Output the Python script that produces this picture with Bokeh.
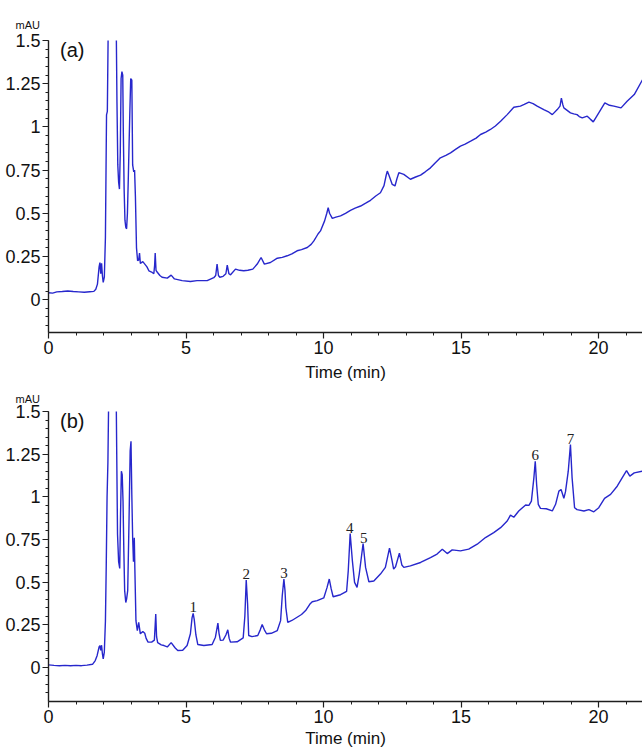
from bokeh.plotting import figure
from bokeh.layouts import column
from bokeh.models import ColumnDataSource, FixedTicker, CustomJSTickFormatter, Label, Range1d
from bokeh.core.properties import value
from bokeh.embed import file_html
from bokeh.resources import INLINE

# ---- chromatogram (a): time (min) and absorbance (mAU) ----
t_a = [0.0, 0.15, 0.3, 0.5, 0.7, 0.9, 1.1, 1.3, 1.5, 1.65, 1.72, 1.78, 1.84, 1.87, 1.9, 1.93, 1.96,
       1.99, 2.03, 2.07, 2.11, 2.14, 2.17, 2.22, 2.35, 2.45, 2.49, 2.52, 2.55, 2.58, 2.61, 2.64,
       2.67, 2.70, 2.72, 2.75, 2.78, 2.81, 2.84, 2.87, 2.9, 2.93, 2.96, 2.99, 3.03, 3.06, 3.1,
       3.13, 3.16, 3.2, 3.24, 3.28, 3.31, 3.34, 3.43, 3.53, 3.58, 3.65, 3.75, 3.83, 3.86, 3.88,
       3.91, 3.95, 4.05, 4.13, 4.32, 4.46, 4.58, 4.86, 5.16, 5.4, 5.77, 6.01, 6.08, 6.13, 6.18,
       6.23, 6.35, 6.45, 6.5, 6.56, 6.62, 6.8, 6.95, 7.1, 7.25, 7.43, 7.59, 7.73, 7.85, 8.07,
       8.32, 8.5, 8.68, 8.85, 9.04, 9.2, 9.41, 9.55, 9.65, 9.8, 9.89, 10.04, 10.12, 10.17, 10.22,
       10.32, 10.45, 10.62, 10.8, 10.98, 11.15, 11.35, 11.55, 11.71, 11.9, 12.07, 12.2, 12.28,
       12.32, 12.38, 12.5, 12.6, 12.67, 12.74, 12.92, 13.16, 13.35, 13.53, 13.7, 13.89, 14.05,
       14.25, 14.45, 14.62, 14.8, 14.98, 15.15, 15.35, 15.55, 15.71, 15.9, 16.07, 16.25, 16.44,
       16.68, 16.92, 17.16, 17.3, 17.47, 17.62, 17.77, 18.01, 18.2, 18.32, 18.5, 18.6, 18.65,
       18.7, 18.74, 18.98, 19.1, 19.22, 19.3, 19.41, 19.59, 19.7, 19.81, 20.01, 20.23, 20.4,
       20.56, 20.82, 21.04, 21.3, 21.6]
y_a = [0.040, 0.038, 0.045, 0.047, 0.050, 0.047, 0.045, 0.043, 0.046, 0.048, 0.06, 0.09, 0.19,
       0.215, 0.15, 0.21, 0.14, 0.10, 0.13, 0.36, 1.07, 1.09, 1.55, 1.9, 2.2, 1.8, 1.14, 0.78,
       0.68, 0.64, 0.85, 1.28, 1.32, 1.30, 0.98, 0.64, 0.46, 0.42, 0.41, 0.5, 0.69, 0.90, 1.1,
       1.28, 1.27, 0.78, 0.74, 0.75, 0.60, 0.30, 0.225, 0.23, 0.27, 0.21, 0.22, 0.20, 0.19, 0.167,
       0.16, 0.15, 0.2, 0.27, 0.17, 0.16, 0.14, 0.13, 0.125, 0.142, 0.12, 0.11, 0.105, 0.11, 0.11,
       0.127, 0.14, 0.206, 0.14, 0.13, 0.135, 0.15, 0.20, 0.15, 0.144, 0.177, 0.17, 0.167, 0.17,
       0.177, 0.206, 0.244, 0.206, 0.215, 0.24, 0.245, 0.254, 0.265, 0.283, 0.29, 0.302, 0.32,
       0.34, 0.38, 0.398, 0.456, 0.5, 0.533, 0.5, 0.471, 0.478, 0.485, 0.50, 0.517, 0.53, 0.542,
       0.56, 0.575, 0.6, 0.619, 0.66, 0.72, 0.744, 0.72, 0.667, 0.658, 0.70, 0.735, 0.725, 0.697,
       0.71, 0.721, 0.74, 0.763, 0.79, 0.821, 0.835, 0.85, 0.87, 0.889, 0.90, 0.917, 0.935, 0.956,
       0.97, 0.985, 1.005, 1.033, 1.071, 1.114, 1.12, 1.13, 1.143, 1.135, 1.12, 1.10, 1.085,
       1.071, 1.10, 1.12, 1.167, 1.13, 1.11, 1.081, 1.075, 1.071, 1.06, 1.052, 1.062, 1.045,
       1.029, 1.081, 1.139, 1.125, 1.12, 1.11, 1.148, 1.187, 1.273]

# ---- chromatogram (b) ----
t_b = [0.0, 0.2, 0.4, 0.6, 0.8, 1.0, 1.2, 1.4, 1.6, 1.7, 1.77, 1.84, 1.87, 1.9, 1.93, 1.96, 1.99,
       2.03, 2.07, 2.1, 2.13, 2.16, 2.19, 2.3, 2.45, 2.48, 2.51, 2.55, 2.59, 2.62, 2.65, 2.68,
       2.71, 2.74, 2.77, 2.81, 2.84, 2.88, 2.93, 2.97, 3.0, 3.03, 3.06, 3.09, 3.12, 3.14, 3.18,
       3.23, 3.28, 3.34, 3.43, 3.5, 3.55, 3.62, 3.75, 3.85, 3.88, 3.9, 3.93, 3.97, 4.1, 4.2,
       4.32, 4.46, 4.6, 4.7, 4.88, 5.04, 5.16, 5.22, 5.26, 5.3, 5.36, 5.43, 5.65, 5.95, 6.07,
       6.16, 6.2, 6.25, 6.35, 6.45, 6.52, 6.57, 6.62, 6.86, 7.08, 7.14, 7.19, 7.24, 7.28, 7.4,
       7.61, 7.7, 7.77, 7.85, 7.93, 8.1, 8.32, 8.44, 8.5, 8.56, 8.6, 8.63, 8.7, 8.85, 9.04, 9.2,
       9.35, 9.5, 9.59, 9.77, 10.01, 10.13, 10.21, 10.28, 10.35, 10.62, 10.84, 10.9, 10.97,
       11.05, 11.13, 11.22, 11.3, 11.44, 11.53, 11.65, 11.83, 12.07, 12.25, 12.4, 12.5, 12.55,
       12.62, 12.76, 12.85, 12.92, 13.16, 13.53, 13.89, 14.13, 14.32, 14.5, 14.68, 14.98, 15.28,
       15.59, 15.89, 16.19, 16.44, 16.68, 16.8, 16.92, 17.1, 17.35, 17.47, 17.56, 17.65, 17.7,
       17.75, 17.81, 17.89, 18.1, 18.32, 18.44, 18.56, 18.64, 18.74, 18.8, 18.9, 18.98, 19.04,
       19.13, 19.22, 19.47, 19.65, 19.83, 20.01, 20.22, 20.44, 20.68, 20.86, 21.02, 21.14, 21.3,
       21.6]
y_b = [0.015, 0.012, 0.010, 0.012, 0.010, 0.012, 0.010, 0.013, 0.018, 0.04, 0.07, 0.12, 0.128,
       0.10, 0.13, 0.08, 0.05, 0.09, 0.27, 0.6, 1.0, 1.2, 1.6, 2.2, 1.8, 1.27, 0.78, 0.62, 0.58,
       0.9, 1.15, 1.13, 0.975, 0.68, 0.45, 0.38, 0.40, 0.45, 0.877, 1.27, 1.325, 1.01, 0.76, 0.62,
       0.76, 0.58, 0.274, 0.216, 0.264, 0.197, 0.21, 0.20, 0.17, 0.148, 0.148, 0.16, 0.25, 0.313,
       0.18, 0.145, 0.132, 0.128, 0.12, 0.145, 0.115, 0.099, 0.10, 0.128, 0.197, 0.29, 0.317,
       0.28, 0.19, 0.134, 0.128, 0.134, 0.177, 0.259, 0.2, 0.158, 0.16, 0.19, 0.22, 0.17, 0.148,
       0.15, 0.173, 0.3, 0.512, 0.372, 0.187, 0.18, 0.187, 0.22, 0.251, 0.22, 0.197, 0.20, 0.216,
       0.274, 0.42, 0.518, 0.45, 0.352, 0.264, 0.275, 0.294, 0.31, 0.333, 0.37, 0.385, 0.391,
       0.407, 0.469, 0.518, 0.46, 0.414, 0.426, 0.445, 0.566, 0.784, 0.625, 0.498, 0.469, 0.547,
       0.726, 0.586, 0.502, 0.506, 0.547, 0.586, 0.699, 0.62, 0.576, 0.59, 0.67, 0.6, 0.586,
       0.595, 0.615, 0.644, 0.664, 0.693, 0.667, 0.689, 0.683, 0.693, 0.722, 0.761, 0.79, 0.819,
       0.858, 0.893, 0.88, 0.917, 0.952, 0.95, 0.975, 1.111, 1.208, 1.072, 0.956, 0.932, 0.93,
       0.917, 0.956, 1.033, 1.043, 0.991, 1.03, 1.15, 1.306, 1.111, 0.936, 0.925, 0.917, 0.925,
       0.912, 0.936, 0.991, 1.014, 1.062, 1.111, 1.154, 1.121, 1.14, 1.15]

# ---- numbered peaks in (b) ----
peak_ids = ["1", "2", "3", "4", "5", "6", "7"]
peak_t = [5.26, 7.19, 8.56, 10.95, 11.46, 17.70, 18.98]
peak_h = [0.317, 0.512, 0.518, 0.784, 0.726, 1.208, 1.306]

# ---- axis ticks ----
x_major = [0, 5, 10, 15, 20]
x_minor = [0, 1, 2, 3, 4, 5, 6, 7, 8, 9, 10, 11, 12, 13, 14, 15, 16, 17, 18, 19, 20, 21]
y_major = [0, 0.25, 0.5, 0.75, 1, 1.25, 1.5]
y_minor = [-0.15, -0.1, -0.05, 0, 0.05, 0.1, 0.15, 0.2, 0.25, 0.3, 0.35, 0.4, 0.45, 0.5,
           0.55, 0.6, 0.65, 0.7, 0.75, 0.8, 0.85, 0.9, 0.95, 1.0, 1.05, 1.1, 1.15, 1.2,
           1.25, 1.3, 1.35, 1.4, 1.45, 1.5]

LINE = "#2727cc"
SANS = "Liberation Sans"
AX = "#1e1e1e"


def make_fig(t, y, tag, height, top, frame_h, ymin, title_standoff, label_standoff):
    p = figure(width=642, height=height, x_range=Range1d(0, 21.6), y_range=Range1d(ymin, 1.5),
               output_backend="svg", toolbar_location=None,
               min_border_left=48, min_border_right=0, min_border_top=top,
               min_border_bottom=height - top - frame_h)
    p.outline_line_color = None
    p.xgrid.visible = False
    p.ygrid.visible = False

    p.title.text = "mAU"
    p.title.align = "left"
    p.title.offset = -33
    p.title.standoff = title_standoff
    p.title.text_font = SANS
    p.title.text_font_size = "11px"
    p.title.text_font_style = "normal"
    p.title.text_color = "#111111"

    p.line(x=t, y=y, line_color=LINE, line_width=1.4)

    for ax in (p.xaxis[0], p.yaxis[0]):
        ax.axis_line_color = AX
        ax.axis_line_width = 1.4
        ax.major_tick_line_color = AX
        ax.minor_tick_line_color = AX
        ax.major_tick_line_width = 1.2
        ax.minor_tick_line_width = 1.0
        ax.major_tick_in = 0
        ax.major_tick_out = 6
        ax.minor_tick_in = 0
        ax.minor_tick_out = 3
        ax.major_label_text_font = SANS
        ax.major_label_text_font_size = "18px"
        ax.major_label_text_color = "#111111"
        ax.major_label_standoff = 2

    p.xaxis[0].ticker = FixedTicker(ticks=x_major, minor_ticks=x_minor)
    p.yaxis[0].ticker = FixedTicker(ticks=y_major, minor_ticks=y_minor)
    p.yaxis[0].formatter = CustomJSTickFormatter(code="return tick.toString();")
    p.xaxis[0].axis_label = "Time (min)"
    p.xaxis[0].axis_label_text_font = SANS
    p.xaxis[0].axis_label_text_font_size = "17px"
    p.xaxis[0].axis_label_text_font_style = "normal"
    p.xaxis[0].axis_label_text_color = "#111111"
    p.xaxis[0].axis_label_standoff = label_standoff

    p.add_layout(Label(x=0.42, y=1.5, text=tag, text_font=SANS, text_font_size="20px",
                       text_color="#111111", text_baseline="top", text_align="left", y_offset=2))
    return p


pa = make_fig(t_a, y_a, "(a)", 384, 40, 293, -0.19, 19, 6)
pb = make_fig(t_b, y_b, "(b)", 367, 26, 291, -0.2, 13, 3)

src = ColumnDataSource(dict(t=peak_t, h=peak_h, lab=peak_ids))
pb.text(x="t", y="h", text="lab", source=src, text_font=value("Liberation Serif"),
        text_font_size="15px", text_color="#222222", text_align="center",
        text_baseline="alphabetic", y_offset=-6)

layout = column(pa, pb, spacing=0)
open("out.html", "w").write(file_html(layout, INLINE))
